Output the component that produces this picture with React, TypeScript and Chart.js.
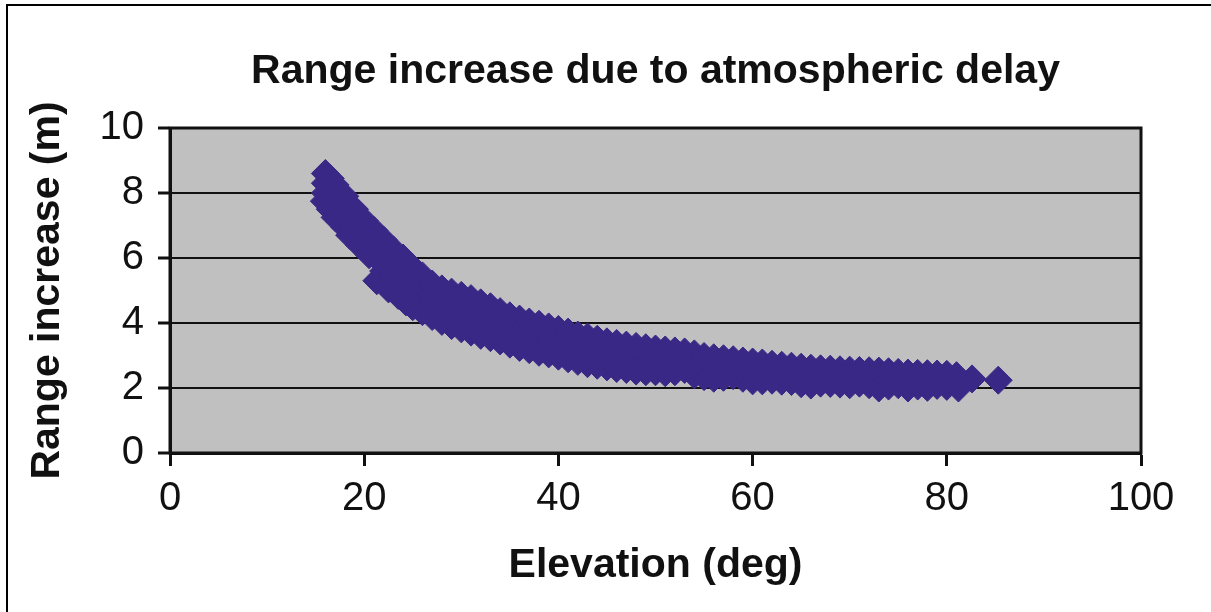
import React, { useEffect, useRef } from 'react';
import { Chart, registerables } from 'chart.js';

Chart.register(...registerables);

const TITLE = 'Range increase due to atmospheric delay';
const X_TITLE = 'Elevation (deg)';
const Y_TITLE = 'Range increase (m)';

const xTickValues = [0, 20, 40, 60, 80, 100];
const yTickValues = [0, 2, 4, 6, 8, 10];

// Upper edge of the point cloud
const elevUpper = [16, 16.5, 17, 18, 19, 20, 21, 22, 23, 24, 25, 26, 27, 28, 29, 30, 31, 32, 33, 34, 35, 36, 37, 38, 39, 40, 41, 42, 43, 44, 45, 46, 47, 48, 49, 50, 51, 52, 53, 54, 55, 56, 57, 58, 59, 60, 61, 62, 63, 64, 65, 66, 67, 68, 69, 70, 71, 72, 73, 74, 75, 76, 77, 78, 79, 80, 81, 82.6, 85.3];
const rangeUpper = [8.6, 8.45, 8.25, 7.9, 7.5, 7.15, 6.85, 6.55, 6.25, 6.0, 5.7, 5.45, 5.2, 5.05, 4.95, 4.85, 4.75, 4.62, 4.5, 4.35, 4.22, 4.12, 4.03, 3.96, 3.88, 3.8, 3.72, 3.63, 3.57, 3.5, 3.42, 3.37, 3.32, 3.28, 3.24, 3.2, 3.17, 3.14, 3.11, 3.05, 2.97, 2.93, 2.9, 2.87, 2.83, 2.8, 2.77, 2.73, 2.7, 2.67, 2.64, 2.61, 2.59, 2.58, 2.56, 2.55, 2.54, 2.53, 2.52, 2.5, 2.48, 2.46, 2.45, 2.44, 2.43, 2.42, 2.38, 2.28, 2.24];

// Lower edge of the point cloud
const elevLower = [15.9, 16.5, 17, 18, 18.5, 19.5, 20.5, 21.3, 22, 22.5, 23.5, 24.3, 25, 26, 27, 28, 29, 30, 31, 32, 33, 34, 35, 36, 37, 38, 39, 40, 41, 42, 43, 44, 45, 46, 47, 48, 49, 50, 51, 52, 53, 54, 55, 56, 57, 58, 59, 60, 61, 62, 63, 64, 65, 66, 67, 68, 69, 70, 71, 72, 73, 74, 75, 76, 77, 78, 79, 80, 81.2];
const rangeLower = [7.75, 7.5, 7.25, 6.95, 6.7, 6.4, 6.1, 5.3, 5.6, 5.05, 4.85, 4.65, 4.5, 4.35, 4.2, 4.05, 3.92, 3.82, 3.72, 3.62, 3.55, 3.45, 3.35, 3.25, 3.18, 3.1, 3.05, 2.98, 2.9, 2.82, 2.75, 2.7, 2.65, 2.6, 2.57, 2.52, 2.5, 2.5, 2.47, 2.5, 2.57, 2.4, 2.35, 2.3, 2.33, 2.38, 2.3, 2.22, 2.22, 2.24, 2.21, 2.2, 2.13, 2.09, 2.15, 2.14, 2.12, 2.1, 2.15, 2.1, 2.0, 2.06, 2.1, 2.0, 2.06, 2.02, 2.08, 2.05, 2.0];

// Interior of the point cloud
const elevMidHigh = [16, 17, 18, 19, 20, 21, 22, 23, 24, 25, 26, 27, 28, 29, 30, 31, 32, 33, 34, 35, 36, 37, 38, 39, 40, 41, 42, 43, 44, 45, 46, 47, 48, 49, 50, 51, 52, 53, 54, 55, 56, 57, 58, 59, 60, 61, 62, 63, 64, 65, 66, 67, 68, 69, 70];
const rangeMidHigh = [8.3, 7.9, 7.6, 7.2, 6.85, 6.5, 6.15, 5.85, 5.55, 5.3, 5.1, 4.85, 4.7, 4.6, 4.5, 4.4, 4.3, 4.2, 4.05, 3.95, 3.7, 3.6, 3.52, 3.46, 3.4, 3.3, 3.22, 3.15, 3.1, 3.05, 2.98, 2.95, 2.9, 2.87, 2.85, 2.82, 2.8, 2.8, 2.72, 2.66, 2.6, 2.6, 2.6, 2.56, 2.5, 2.5, 2.48, 2.45, 2.43, 2.38, 2.35, 2.37, 2.35, 2.33, 2.32];

const elevMidLow = [16, 17, 18, 19, 20, 21, 22, 23, 24, 25, 26, 27, 28, 29, 30, 31, 32, 33, 34, 35];
const rangeMidLow = [8.0, 7.6, 7.25, 6.85, 6.55, 6.2, 5.8, 5.4, 5.1, 4.9, 4.7, 4.55, 4.4, 4.25, 4.15, 4.05, 3.95, 3.85, 3.75, 3.65];

const FONT = '"Liberation Sans", Arial, Helvetica, sans-serif';
const INK = '#111111';
const MARKER = '#3a2886';
const PLOT_BG = '#c0c0c0';

function pairs(xs: number[], ys: number[]) {
  return xs.map((x, i) => ({ x, y: ys[i] }));
}

const framePlugin = {
  id: 'frameAndTitle',
  beforeDraw(chart: any) {
    const { ctx, chartArea: a } = chart;
    ctx.save();
    ctx.fillStyle = '#ffffff';
    ctx.fillRect(0, 0, chart.width, chart.height);
    ctx.strokeStyle = '#000000';
    ctx.lineWidth = 2;
    ctx.beginPath();
    ctx.moveTo(7, chart.height);
    ctx.lineTo(7, 5);
    ctx.lineTo(chart.width, 5);
    ctx.stroke();
    ctx.fillStyle = PLOT_BG;
    ctx.fillRect(a.left, a.top, a.right - a.left, a.bottom - a.top);
    ctx.fillStyle = INK;
    ctx.font = `bold 41px ${FONT}`;
    ctx.textAlign = 'center';
    ctx.textBaseline = 'alphabetic';
    ctx.fillText(TITLE, (a.left + a.right) / 2, 83);
    ctx.restore();
  },
  afterDatasetsDraw(chart: any) {
    const { ctx, chartArea: a } = chart;
    ctx.save();
    ctx.strokeStyle = INK;
    ctx.lineWidth = 3;
    ctx.strokeRect(a.left, a.top, a.right - a.left, a.bottom - a.top);
    ctx.restore();
  },
};

export default function App() {
  const canvasRef = useRef<HTMLCanvasElement | null>(null);

  useEffect(() => {
    if (!canvasRef.current) return;
    const points = [
      ...pairs(elevLower, rangeLower),
      ...pairs(elevMidLow, rangeMidLow),
      ...pairs(elevMidHigh, rangeMidHigh),
      ...pairs(elevUpper, rangeUpper),
    ];
    const chart = new Chart(canvasRef.current, {
      type: 'scatter',
      data: {
        datasets: [
          {
            data: points,
            pointStyle: 'rectRot',
            pointRadius: 14,
            pointHoverRadius: 14,
            backgroundColor: MARKER,
            borderColor: MARKER,
            borderWidth: 1,
          },
        ],
      },
      options: {
        animation: false,
        responsive: false,
        maintainAspectRatio: false,
        devicePixelRatio: 1,
        layout: { padding: { top: 128, right: 70, left: 0, bottom: 0 } },
        plugins: {
          legend: { display: false },
          tooltip: { enabled: false },
          title: { display: false },
        },
        scales: {
          x: {
            type: 'linear',
            position: 'bottom',
            min: 0,
            max: 100,
            afterBuildTicks: (s: any) => {
              s.ticks = xTickValues.map((v) => ({ value: v }));
            },
            afterFit: (s: any) => {
              s.height = 159;
            },
            grid: {
              drawOnChartArea: false,
              drawTicks: true,
              tickLength: 13,
              tickWidth: 3,
              tickColor: INK,
              color: INK,
            },
            border: { display: true, color: INK, width: 3 },
            ticks: {
              font: { family: FONT, size: 40 },
              color: INK,
              padding: 9,
              maxRotation: 0,
              autoSkip: false,
            },
            title: {
              display: true,
              text: X_TITLE,
              color: INK,
              font: { family: FONT, size: 41, weight: 'bold' },
              padding: { top: 0, bottom: 22 },
            },
          },
          y: {
            type: 'linear',
            min: 0,
            max: 10,
            afterBuildTicks: (s: any) => {
              s.ticks = yTickValues.map((v) => ({ value: v }));
            },
            afterFit: (s: any) => {
              s.width = 170;
            },
            grid: {
              color: INK,
              lineWidth: 2,
              drawTicks: true,
              tickLength: 12,
              tickWidth: 3,
              tickColor: INK,
            },
            border: { display: true, color: INK, width: 3 },
            ticks: {
              font: { family: FONT, size: 40 },
              color: INK,
              padding: 14,
            },
            title: {
              display: true,
              text: Y_TITLE,
              color: INK,
              font: { family: FONT, size: 41, weight: 'bold' },
              padding: { top: 23, bottom: 0 },
            },
          },
        },
      },
      plugins: [framePlugin],
    } as any);
    return () => chart.destroy();
  }, []);

  return (
    <div style={{ position: 'absolute', left: 0, top: 0, width: 1211, height: 612 }}>
      <canvas ref={canvasRef} width={1211} height={612} style={{ display: 'block' }} />
    </div>
  );
}
